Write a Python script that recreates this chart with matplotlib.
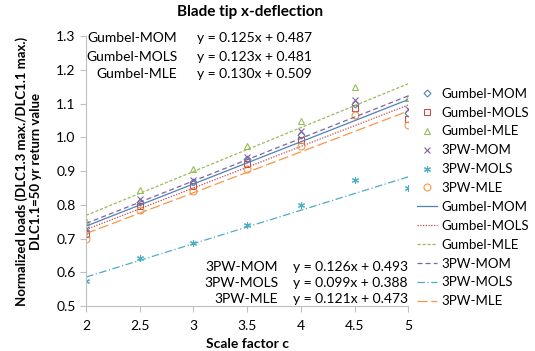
import matplotlib
matplotlib.use("Agg")
import matplotlib.pyplot as plt
import numpy as np

plt.rcParams['font.family'] = ['Lato', 'DejaVu Sans']

########################
scale = [2, 2.5, 3, 3.5, 4, 4.5, 5]
gumbel_mom = [0.722, 0.809, 0.867, 0.935, 1.007, 1.100, 1.071]
gumbel_mols = [0.714, 0.796, 0.856, 0.921, 0.992, 1.086, 1.054]
gumbel_mle = [0.753, 0.844, 0.905, 0.974, 1.048, 1.148, 1.117]
pw_mom = [0.728, 0.816, 0.875, 0.942, 1.019, 1.112, 1.083]
pw_mols = [0.575, 0.641, 0.688, 0.740, 0.799, 0.875, 0.851]
pw_mle = [0.698, 0.784, 0.841, 0.905, 0.974, 1.066, 1.036]

names = ["Gumbel-MOM", "Gumbel-MOLS", "Gumbel-MLE", "3PW-MOM", "3PW-MOLS", "3PW-MLE"]
slopes = [0.125, 0.123, 0.130, 0.126, 0.099, 0.121]
intercepts = [0.487, 0.481, 0.509, 0.493, 0.388, 0.473]
########################

series = [gumbel_mom, gumbel_mols, gumbel_mle, pw_mom, pw_mols, pw_mle]
colors = ["#4F81BD", "#C0504D", "#9BBB59", "#8064A2", "#4BACC6", "#F79646"]
markers = ["D", "s", "^", "x", (6, 2, 0), "o"]
msizes = [3.5, 5, 5, 5, 5, 5]
lstyles = ["-", (0, (1, 1.2)), (0, (2.5, 1.5)), (0, (4, 2.5)), (0, (6, 2, 1, 2)), (0, (8, 3))]

fig = plt.figure(figsize=(5.35, 3.51), dpi=100)
ax = fig.add_axes([0.161, 0.128, 0.602, 0.769])

for y, c, m, ms, n in zip(series, colors, markers, msizes, names):
    ax.plot(scale, y, linestyle="none", marker=m, markersize=ms, color=c,
            markerfacecolor="none", markeredgewidth=0.8, label=n)

xs = np.array([2, 5])
for a, b, c, ls, n in zip(slopes, intercepts, colors, lstyles, names):
    ax.plot(xs, a * xs + b, color=c, linestyle=ls, linewidth=0.9, label=n)

ax.set_xlim(2, 5)
ax.set_ylim(0.5, 1.3)
ax.set_xticks([2, 2.5, 3, 3.5, 4, 4.5, 5])
ax.set_xticklabels(["2", "2.5", "3", "3.5", "4", "4.5", "5"])
ax.set_yticks(np.arange(0.5, 1.31, 0.1))
ax.set_yticklabels([f"{v:.1f}" for v in np.arange(0.5, 1.31, 0.1)])
for s in ["top", "right"]:
    ax.spines[s].set_visible(False)
for s in ["left", "bottom"]:
    ax.spines[s].set_color("#BFBFBF")
ax.tick_params(colors="#BFBFBF", labelcolor="black", labelsize=10, length=4)
ax.tick_params(axis="x", pad=6)

ax.set_xlabel("Scale factor c", fontweight="bold", fontsize=10, labelpad=4)
ax.set_ylabel("Normalized loads (DLC1.3 max./DLC1.1 max.)\nDLC1.1=50 yr return value",
              fontweight="bold", fontsize=9.5, labelpad=10)
fig.text(0.468, 0.965, "Blade tip x-deflection", ha="center", va="center",
         fontweight="bold", fontsize=11)

# trendline equations
top_y = [1.294, 1.238, 1.188]
for n, a, b, yy in zip(names[:3], slopes[:3], intercepts[:3], top_y):
    ax.text(2.85, yy, n, ha="right", va="center", fontsize=10)
    ax.text(3.03, yy, f"y = {a:.3f}x + {b:.3f}", ha="left", va="center", fontsize=10)
bot_y = [0.617, 0.568, 0.520]
for n, a, b, yy in zip(names[3:], slopes[3:], intercepts[3:], bot_y):
    ax.text(3.79, yy, n, ha="right", va="center", fontsize=10)
    ax.text(3.93, yy, f"y = {a:.3f}x + {b:.3f}", ha="left", va="center", fontsize=10)

h, l = ax.get_legend_handles_labels()
fig.legend(h, l, loc="upper left", bbox_to_anchor=(0.77, 0.765), frameon=False,
           fontsize=9.5, handlelength=1.5, handletextpad=0.35, labelspacing=0.52,
           borderaxespad=0)

plt.savefig("out.png", dpi=100)
